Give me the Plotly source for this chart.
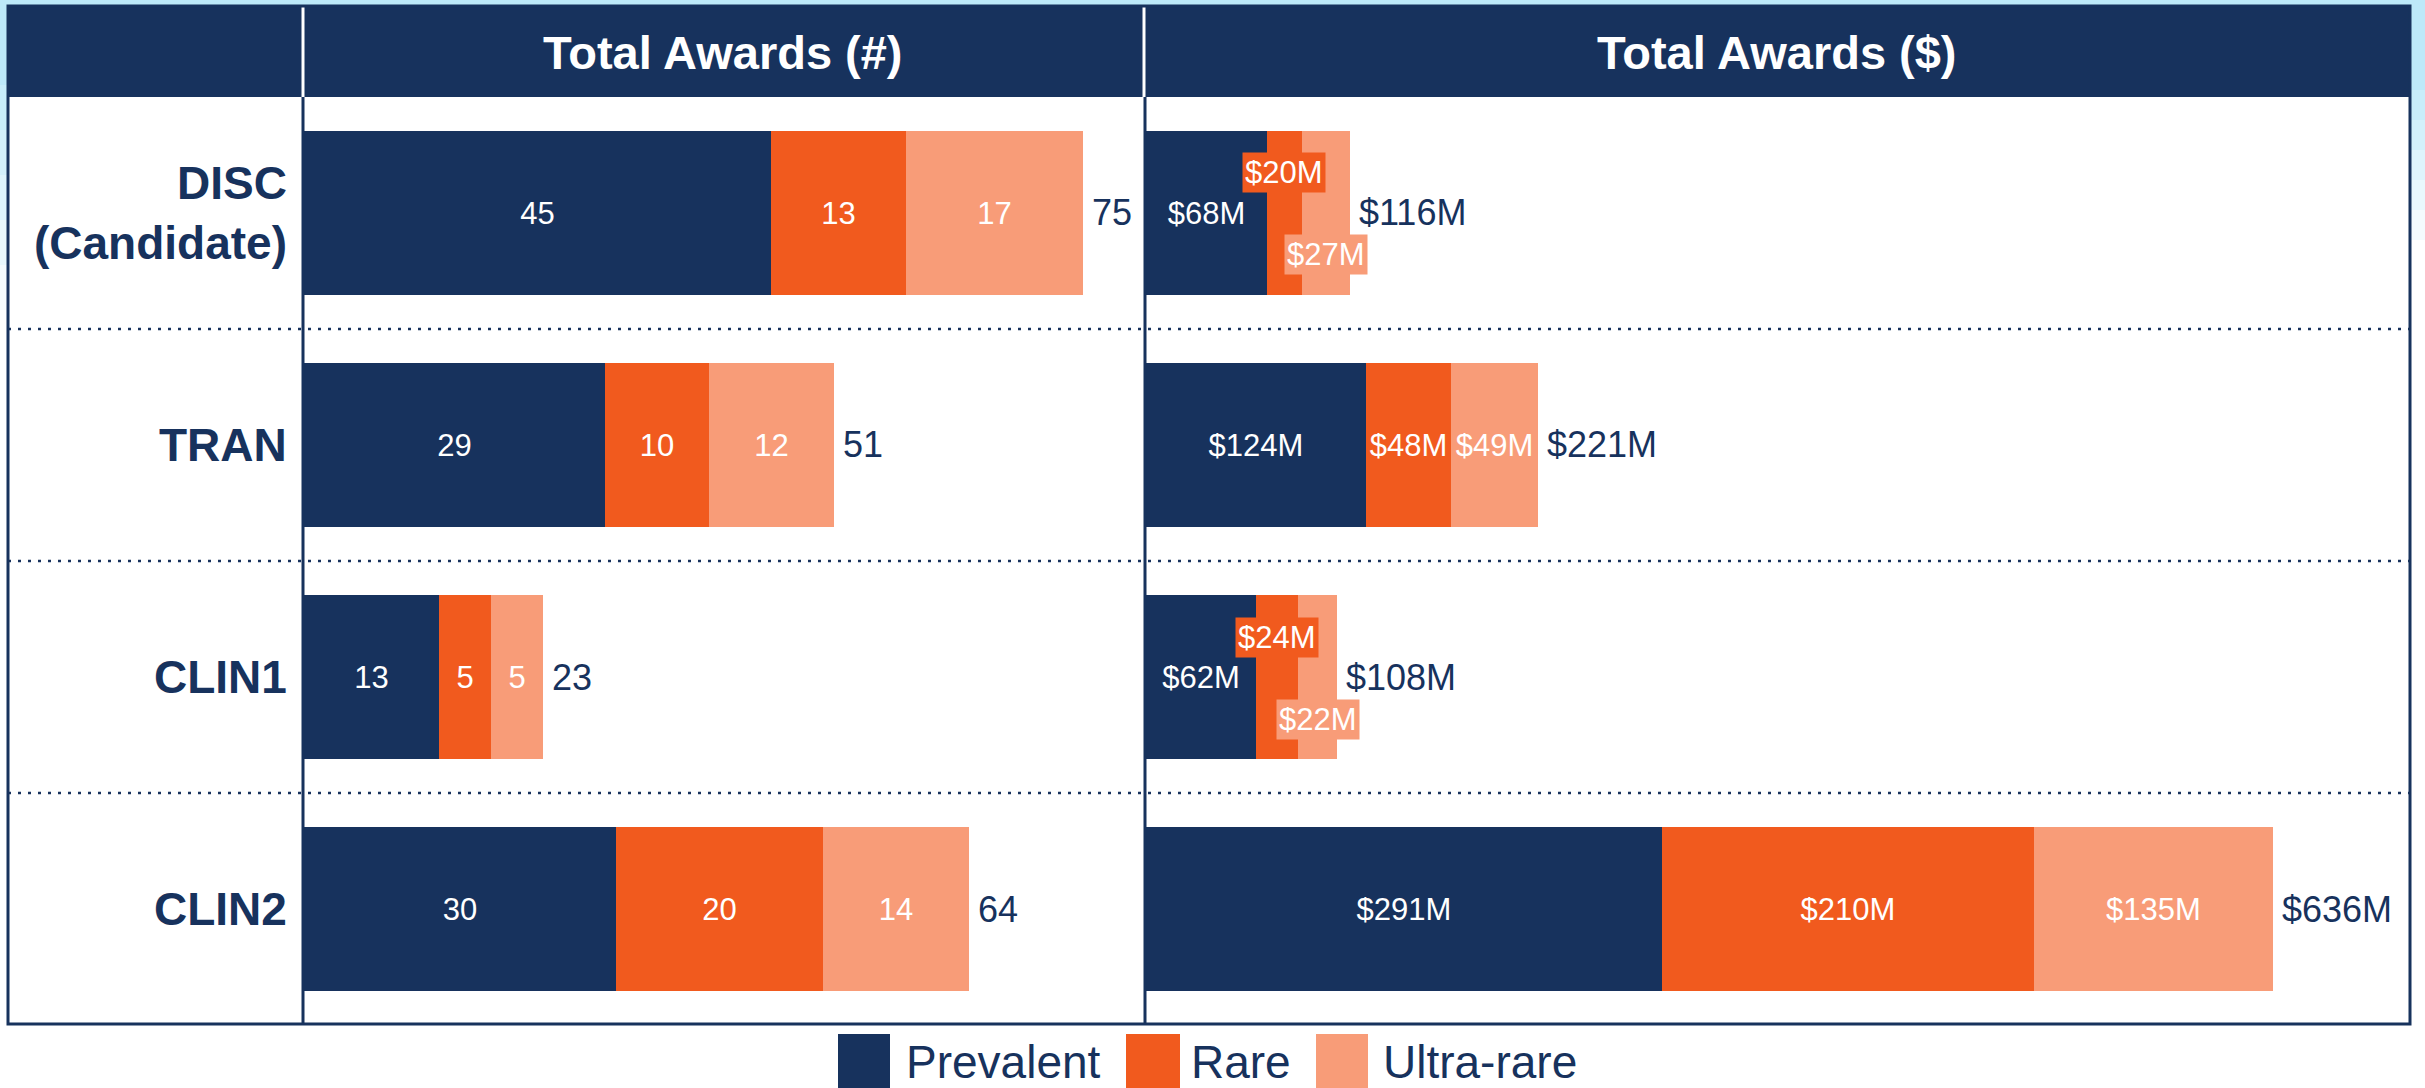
import plotly.graph_objects as go

# ---------------- data ----------------
stages = ["DISC<br>(Candidate)", "TRAN", "CLIN1", "CLIN2"]
series_names = ["Prevalent", "Rare", "Ultra-rare"]
count_prevalent = [45, 29, 13, 30]
count_rare = [13, 10, 5, 20]
count_ultra = [17, 12, 5, 14]
count_total = [75, 51, 23, 64]
dollar_prevalent = [68, 124, 62, 291]
dollar_rare = [20, 48, 24, 210]
dollar_ultra = [27, 49, 22, 135]
dollar_total = [116, 221, 108, 636]
panel_titles = ["Total Awards (#)", "Total Awards ($)"]

# ---------------- style ----------------
W, H = 2425, 1088
NAVY = "#17325D"
ORANGE = "#F15A1E"
SALMON = "#F89C78"
LIGHTBLUE = "#BDE9F9"
colors = [NAVY, ORANGE, SALMON]
FONT = "Liberation Sans, Arial, sans-serif"


def px(x):
    return x / W


def py(y):
    return 1 - y / H


fig = go.Figure()

count_series = [count_prevalent, count_rare, count_ultra]
dollar_series = [dollar_prevalent, dollar_rare, dollar_ultra]

annotations = []

# left panel bars (counts)
for name, vals, col in zip(series_names, count_series, colors):
    fig.add_trace(go.Bar(
        x=vals, y=stages, orientation="h", name=name,
        xaxis="x", yaxis="y", width=0.711,
        marker=dict(color=col, line=dict(width=0)),
        text=[str(v) for v in vals], textposition="inside",
        insidetextanchor="middle", textangle=0,
        textfont=dict(size=31, color="white", family=FONT),
        showlegend=False, hoverinfo="skip",
    ))

# right panel bars (dollars)
SMALL = 35
for si, (name, vals, col) in enumerate(zip(series_names, dollar_series, colors)):
    texts = [("$%dM" % v) if v >= SMALL else "" for v in vals]
    fig.add_trace(go.Bar(
        x=vals, y=stages, orientation="h", name=name,
        xaxis="x2", yaxis="y", width=0.711,
        marker=dict(color=col, line=dict(width=0)),
        text=texts, textposition="inside",
        insidetextanchor="middle", textangle=0,
        textfont=dict(size=31, color="white", family=FONT),
        showlegend=False, hoverinfo="skip",
    ))

# labels for thin dollar segments, offset above / below with coloured boxes
for i, st in enumerate(stages):
    base = 0
    for si, vals in enumerate(dollar_series):
        v = vals[i]
        if v < SMALL and si > 0:
            annotations.append(dict(
                x=base + v / 2, y=st, xref="x2", yref="y",
                xanchor="center", yanchor="middle",
                text="$%dM" % v, showarrow=False,
                yshift=40 if si == 1 else -42,
                bgcolor=colors[si], borderpad=2,
                font=dict(size=31, color="white", family=FONT),
            ))
        base += v

# totals
for i, st in enumerate(stages):
    end_c = count_prevalent[i] + count_rare[i] + count_ultra[i]
    annotations.append(dict(
        x=end_c, y=st, xref="x", yref="y", text=str(count_total[i]),
        showarrow=False, xanchor="left", yanchor="middle", xshift=7,
        font=dict(size=36, color=NAVY, family=FONT)))
    end_d = dollar_prevalent[i] + dollar_rare[i] + dollar_ultra[i]
    annotations.append(dict(
        x=end_d, y=st, xref="x2", yref="y", text="$%dM" % dollar_total[i],
        showarrow=False, xanchor="left", yanchor="middle", xshift=7,
        font=dict(size=36, color=NAVY, family=FONT)))

# row labels
for st in stages:
    annotations.append(dict(
        x=px(289), y=st, xref="paper", yref="y", text="<b>%s</b>" % st,
        showarrow=False, xanchor="right", yanchor="middle", align="right",
        font=dict(size=46, color=NAVY, family=FONT)))

# header titles
for title, cx in zip(panel_titles, (723, 1777)):
    annotations.append(dict(x=px(cx), y=py(52), xref="paper", yref="paper",
                            xanchor="center", yanchor="middle",
                            text="<b>%s</b>" % title, showarrow=False,
                            font=dict(size=47, color="white", family=FONT)))

# manual legend
legend_sq = [(838, 890), (1126, 1180), (1316, 1368)]
legend_tx = [1003, 1241, 1480]
shapes = []
for (x0, x1), tx, name, col in zip(legend_sq, legend_tx, series_names, colors):
    shapes.append(dict(type="rect", xref="paper", yref="paper",
                       x0=px(x0), x1=px(x1), y0=py(1088), y1=py(1034),
                       fillcolor=col, line=dict(width=0)))
    annotations.append(dict(x=px(tx), y=py(1062), xref="paper", yref="paper",
                            xanchor="center", yanchor="middle",
                            text=name, showarrow=False,
                            font=dict(size=46, color=NAVY, family=FONT)))

# light blue background edges
shapes.append(dict(type="rect", xref="paper", yref="paper", x0=0, x1=1,
                   y0=py(6), y1=1, fillcolor=LIGHTBLUE, line=dict(width=0),
                   layer="below"))
steps = 6
for k in range(steps):
    op = 1 - k / steps
    shapes.append(dict(type="rect", xref="paper", yref="paper", x0=0, x1=px(7),
                       y0=py(40 + (k + 1) * 45), y1=py(40 + k * 45) if k else 1,
                       fillcolor=LIGHTBLUE, opacity=op, line=dict(width=0),
                       layer="below"))
    shapes.append(dict(type="rect", xref="paper", yref="paper", x0=px(2410), x1=1,
                       y0=py(60 + (k + 1) * 30), y1=py(60 + k * 30) if k else 1,
                       fillcolor=LIGHTBLUE, opacity=op, line=dict(width=0),
                       layer="below"))

# header band
shapes.append(dict(type="rect", xref="paper", yref="paper",
                   x0=px(8), x1=px(2410), y0=py(97), y1=py(6),
                   fillcolor=NAVY, line=dict(width=0)))
for xd in (303, 1144):
    shapes.append(dict(type="line", xref="paper", yref="paper",
                       x0=px(xd), x1=px(xd), y0=py(97), y1=py(6),
                       line=dict(color="white", width=3)))

# dotted row separators
for ysep in (0.5, 1.5, 2.5):
    shapes.append(dict(type="line", xref="paper", yref="y",
                       x0=px(8), x1=px(2410), y0=ysep, y1=ysep,
                       line=dict(color=NAVY, width=2.5, dash="3px,7px")))

# frame and dividers
for xd in (303, 1145):
    shapes.append(dict(type="line", xref="paper", yref="paper",
                       x0=px(xd), x1=px(xd), y0=py(1024), y1=py(97),
                       line=dict(color=NAVY, width=3)))
shapes.append(dict(type="rect", xref="paper", yref="paper",
                   x0=px(8), x1=px(2410), y0=py(1024), y1=py(6),
                   line=dict(color=NAVY, width=3), fillcolor="rgba(0,0,0,0)"))

axis_common = dict(showgrid=False, zeroline=False, showticklabels=False,
                   showline=False, ticks="", fixedrange=True)

fig.update_layout(
    width=W, height=H,
    margin=dict(l=0, r=0, t=0, b=0),
    paper_bgcolor="white", plot_bgcolor="rgba(0,0,0,0)",
    barmode="stack", bargap=0,
    xaxis=dict(domain=[px(304), px(1144)], range=[0, 80.9], anchor="y", **axis_common),
    xaxis2=dict(domain=[px(1146), px(2409)], range=[0, 712.7], anchor="y", **axis_common),
    yaxis=dict(domain=[py(1025), py(97)], type="category",
               categoryorder="array", categoryarray=stages,
               range=[3.5, -0.5], anchor="x", **axis_common),
    shapes=shapes,
    annotations=annotations,
    font=dict(family=FONT, color=NAVY),
    showlegend=False,
)

fig.write_html(
    "out.html",
    config={"displayModeBar": False},
    post_script="document.body.style.margin='0px';document.body.style.overflow='hidden';",
)
